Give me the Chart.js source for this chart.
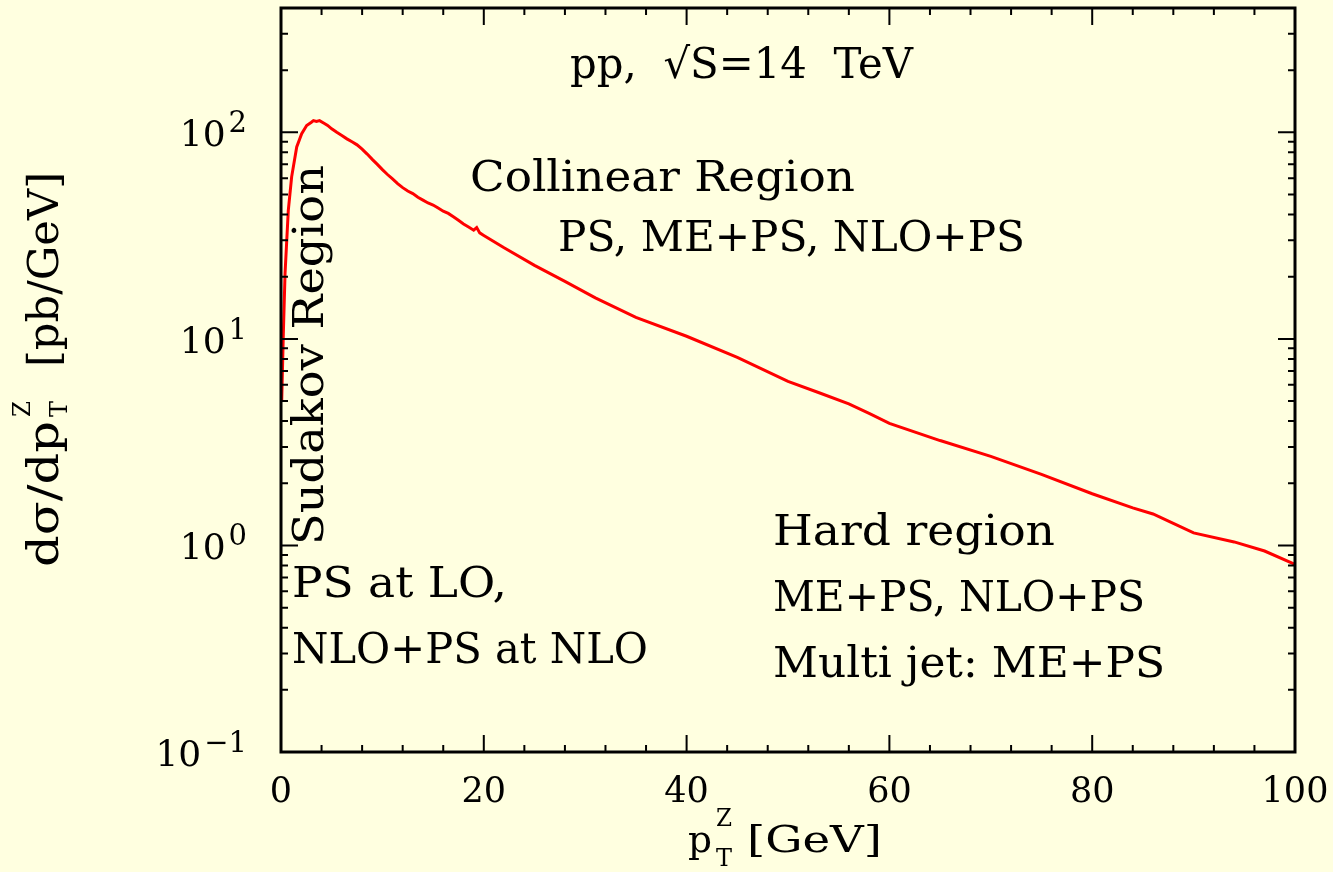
<!DOCTYPE html>
<html>
<head>
<meta charset="utf-8">
<script src="https://cdn.jsdelivr.net/npm/chart.js@4.4.1/dist/chart.umd.min.js"></script>
<style>
  html, body { margin: 0; padding: 0; background: #ffffe0; }
  #wrap { width: 1333px; height: 872px; }
</style>
</head>
<body>
<div id="wrap"><canvas id="myChart" width="1333" height="872"></canvas></div>
<script>
// pT of the Z boson [GeV]
const ptValues = [
  0.07, 0.23, 0.4, 0.72, 1.05, 1.55, 2.04, 2.53, 3.0, 3.2, 3.5, 3.8, 4.2, 4.6, 5.0,
  5.5, 6.0, 6.5, 7.0, 7.5, 8.0, 8.5, 9.0, 9.5, 10, 10.5, 11, 11.5, 12, 12.5, 13,
  13.5, 14, 14.5, 15, 15.5, 16, 16.5, 17, 17.5, 18, 18.5, 19, 19.3, 19.6, 20,
  22, 25, 28, 31, 35, 40, 45, 50, 53, 56, 58, 60, 65, 70, 75, 80, 84, 86, 88, 90,
  94, 97, 100
];
// dsigma/dpT [pb/GeV]
const xsecValues = [
  5.0, 10.6, 20.8, 41.9, 60.9, 85, 98.6, 108, 112, 114, 113, 114, 111, 108, 104,
  100, 96.5, 93, 90, 87, 83, 78.5, 74, 70, 66, 62.5, 59.5, 56.5, 54, 52, 50.5,
  48.5, 47, 45.5, 44.5, 43, 41.5, 40.5, 39, 37.5, 36, 34.8, 33.6, 34.6, 32.6, 31.7,
  27.6, 22.7, 19.0, 15.8, 12.7, 10.3, 8.14, 6.23, 5.5, 4.85, 4.36, 3.90, 3.22, 2.70, 2.21, 1.78, 1.52, 1.42, 1.28, 1.15,
  1.04, 0.94, 0.81
];

const xMajorTicks = [0, 20, 40, 60, 80, 100];
const xMinorTicks = [4, 8, 12, 16, 24, 28, 32, 36, 44, 48, 52, 56, 64, 68, 72, 76, 84, 88, 92, 96];
const yMajorTicks = [0.1, 1, 10, 100];
const yMajorExp = ['\u22121', '0', '1', '2'];
const yMinorTicks = [0.2, 0.3, 0.4, 0.5, 0.6, 0.7, 0.8, 0.9, 2, 3, 4, 5, 6, 7, 8, 9,
  20, 30, 40, 50, 60, 70, 80, 90, 200, 300];

const FONT = '"DejaVu Serif", serif';

// text stretched horizontally to a given width
function fitText(ctx, text, size, x, y, width) {
  ctx.font = size + 'px ' + FONT;
  const w = ctx.measureText(text).width;
  ctx.save();
  ctx.translate(x, y);
  ctx.scale(width / w, 1);
  ctx.fillText(text, 0, 0);
  ctx.restore();
}

const framePlugin = {
  id: 'frame',
  afterDatasetsDraw(chart) {
    const ctx = chart.ctx;
    const { left, right, top, bottom } = chart.chartArea;
    const xs = chart.scales.x;
    const ys = chart.scales.y;
    ctx.save();
    ctx.strokeStyle = '#000';
    ctx.fillStyle = '#000';
    ctx.lineCap = 'butt';
    ctx.textAlign = 'left';
    ctx.textBaseline = 'alphabetic';

    // ticks
    ctx.lineWidth = 2;
    ctx.beginPath();
    const xt = (v, len) => {
      const px = xs.getPixelForValue(v);
      ctx.moveTo(px, bottom); ctx.lineTo(px, bottom - len);
      ctx.moveTo(px, top); ctx.lineTo(px, top + len);
    };
    const yt = (v, len) => {
      const py = ys.getPixelForValue(v);
      ctx.moveTo(left, py); ctx.lineTo(left + len, py);
      ctx.moveTo(right, py); ctx.lineTo(right - len, py);
    };
    xMajorTicks.forEach((v) => xt(v, 17));
    xMinorTicks.forEach((v) => xt(v, 7));
    yMajorTicks.forEach((v) => yt(v, 17));
    yMinorTicks.forEach((v) => yt(v, 7));
    ctx.stroke();

    // frame
    ctx.lineWidth = 3;
    ctx.strokeRect(left, top, right - left, bottom - top);

    // x tick labels
    ctx.font = '35px ' + FONT;
    ctx.textAlign = 'center';
    xMajorTicks.forEach((v) => {
      ctx.fillText(String(v), xs.getPixelForValue(v), 802);
    });

    // y tick labels
    ctx.textAlign = 'left';
    yMajorTicks.forEach((v, i) => {
      const py = ys.getPixelForValue(v);
      ctx.font = '29px ' + FONT;
      const we = ctx.measureText(yMajorExp[i]).width;
      const xe = 247 - we;
      ctx.fillText(yMajorExp[i], xe, py);
      ctx.font = '36px ' + FONT;
      const w10 = ctx.measureText('10').width;
      ctx.fillText('10', xe - w10 - 3, py + 14);
    });

    // x axis title
    fitText(ctx, 'p', 38, 688, 852, 24);
    fitText(ctx, 'Z', 24, 716, 826, 16);
    fitText(ctx, 'T', 24, 716, 866, 16);
    fitText(ctx, '[GeV]', 38, 747, 852, 135);

    // y axis title
    ctx.save();
    ctx.translate(58, 567);
    ctx.rotate(-Math.PI / 2);
    fitText(ctx, 'd\u03c3/dp', 42, 0, 0, 146);
    fitText(ctx, 'Z', 24, 150, -28, 16);
    fitText(ctx, 'T', 24, 150, 9, 16);
    fitText(ctx, '[pb/GeV]', 42, 200, 0, 195);
    ctx.restore();

    // annotations
    fitText(ctx, 'pp,  \u221aS=14  TeV', 42, 570, 78, 343);
    fitText(ctx, 'Collinear Region', 42, 470, 191, 385);
    fitText(ctx, 'PS, ME+PS, NLO+PS', 42, 558, 251, 467);
    fitText(ctx, 'PS at LO,', 42, 292, 597, 215);
    fitText(ctx, 'NLO+PS at NLO', 42, 292, 663, 356);
    fitText(ctx, 'Hard region', 42, 773, 545, 282);
    fitText(ctx, 'ME+PS, NLO+PS', 42, 773, 611, 372);
    fitText(ctx, 'Multi jet: ME+PS', 42, 773, 677, 392);

    ctx.save();
    ctx.translate(323, 545);
    ctx.rotate(-Math.PI / 2);
    fitText(ctx, 'Sudakov Region', 42, 0, 0, 380);
    ctx.restore();

    ctx.restore();
  }
};

const bgPlugin = {
  id: 'bg',
  beforeDraw(chart) {
    const ctx = chart.ctx;
    ctx.save();
    ctx.fillStyle = '#ffffe0';
    ctx.fillRect(0, 0, chart.width, chart.height);
    ctx.restore();
  }
};

new Chart(document.getElementById('myChart'), {
  type: 'line',
  data: {
    datasets: [{
      data: ptValues.map((x, i) => ({ x: x, y: xsecValues[i] })),
      borderColor: '#ff0000',
      borderWidth: 3,
      pointRadius: 0,
      tension: 0,
      fill: false
    }]
  },
  options: {
    responsive: false,
    animation: false,
    layout: { padding: { left: 281, right: 38, top: 8, bottom: 120 } },
    plugins: { legend: { display: false }, tooltip: { enabled: false } },
    scales: {
      x: { type: 'linear', min: 0, max: 100, display: false },
      y: { type: 'logarithmic', min: 0.1, max: 400, display: false }
    }
  },
  plugins: [bgPlugin, framePlugin]
});
</script>
</body>
</html>
